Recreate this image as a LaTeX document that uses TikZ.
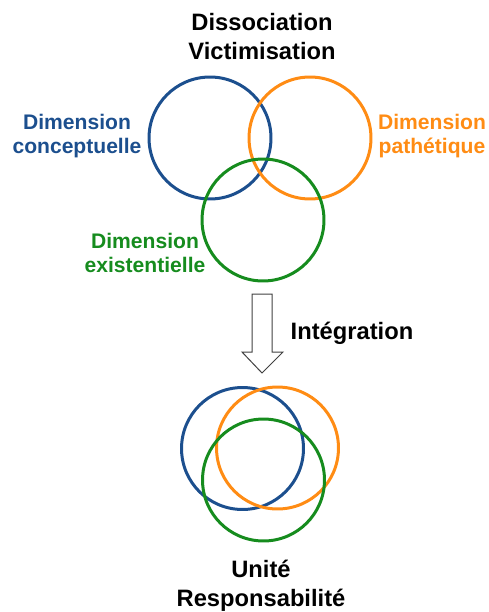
\documentclass[tikz,border=0pt]{standalone}
\usepackage{fontspec}
\setmainfont{Liberation Sans}
\definecolor{dimBlue}{RGB}{28,79,142}
\definecolor{dimOrange}{RGB}{255,140,20}
\definecolor{dimGreen}{RGB}{22,140,30}
\begin{document}
\begin{tikzpicture}[x=.02cm, y=-.02cm, every node/.style={align=center}, ring/.style={draw, circle, line width=.06cm, minimum size=2.44cm, inner sep=0pt}, bigText/.style={font=\fontsize{13.5}{16.5}\selectfont\bfseries}, dimText/.style={font=\fontsize{12}{13.7}\selectfont\bfseries}]
	\useasboundingbox (0,0) rectangle (488,612);
	% dissociated dimensions
	\node[bigText] (topTitle) at (262,37) {Dissociation\\Victimisation};
	\node[ring, draw=dimBlue] (conceptA) at (210,138) {};
	\node[ring, draw=dimOrange] (patheA) at (310,138) {};
	\node[ring, draw=dimGreen] (existA) at (263,220) {};
	\node[dimText, text=dimBlue] (conceptText) at (77,136) {Dimension\\conceptuelle};
	\node[dimText, text=dimOrange] (patheText) at (432,136) {Dimension\\pathétique};
	\node[dimText, text=dimGreen] (existText) at (145,253) {Dimension\\existentielle};
	% integration arrow
	\draw[line width=.02cm, draw=black!75] (252,294) -- (272,294) -- (272,352) -- (283,352) -- (262,373) -- (242,352) -- (252,352) -- cycle;
	\node[bigText] (integText) at (352,333) {Intégration};
	% integrated dimensions
	\node[ring, draw=dimBlue] (conceptB) at (242.5,448.5) {};
	\node[ring, draw=dimOrange] (patheB) at (277.5,448) {};
	\node[ring, draw=dimGreen] (existB) at (263.5,480) {};
	\node[bigText] (bottomTitle) at (261,586) {Unité\\Responsabilité};
\end{tikzpicture}
\end{document}
